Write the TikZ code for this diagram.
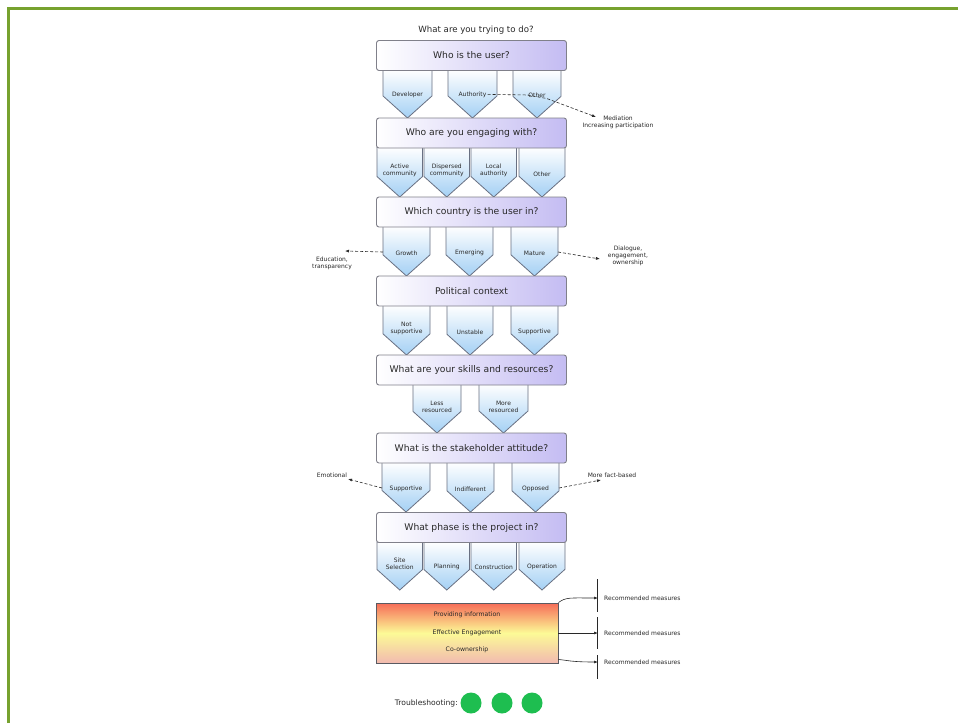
\documentclass[tikz,border=0pt]{standalone}
\usepackage{fontspec}
\setmainfont{DejaVu Sans}
\usetikzlibrary{arrows.meta}
\definecolor{frameg}{RGB}{119,162,47}
\definecolor{lav}{RGB}{196,188,242}
\definecolor{pblue}{RGB}{164,208,244}
\definecolor{bord}{RGB}{128,128,138}
\definecolor{pbord}{RGB}{105,112,130}
\definecolor{gred}{RGB}{246,108,88}
\definecolor{gyel}{RGB}{252,250,150}
\definecolor{gpink}{RGB}{242,186,176}
\definecolor{tgreen}{RGB}{30,190,80}
\definecolor{txt}{RGB}{40,40,40}
\newcommand\mypent[6]{%
  \pgfmathsetmacro\pXa{#5-0.45*(#3-#2)}%
  \pgfmathsetmacro\pXm{(#2+#3)/2}%
  \path[pentshape] (#2,#4) -- (#3,#4) -- (#3,\pXa) -- (\pXm,#5) -- (#2,\pXa) -- cycle;
  \node[plabel,anchor=south] (#1) at (\pXm,#5-19.5) {#6};
  \coordinate (#1-w) at (#2,#5-24);
  \coordinate (#1-e) at (#3,#5-24);
}
\begin{document}
\begin{tikzpicture}[x=1pt,y=-1pt,
  qbox/.style={draw=bord, line width=0.9pt, rounded corners=2.5pt, left color=white, right color=lav,
    minimum width=190pt, minimum height=30pt, inner sep=0pt, font=\fontsize{9.2}{10}\selectfont, text=txt},
  pentshape/.style={draw=pbord, line width=0.8pt, top color=white, bottom color=pblue},
  plabel/.style={font=\fontsize{6}{6.6}\selectfont, align=center, inner sep=1pt, text=txt},
  side/.style={font=\fontsize{6}{7}\selectfont, align=center, inner sep=1pt, text=txt},
  gtxt/.style={font=\fontsize{6.2}{7}\selectfont, inner sep=1pt, text=txt},
  darr/.style={draw=txt, dash pattern=on 3pt off 2pt, line width=0.6pt, -{Latex[length=4pt,width=3pt]}},
  rarr/.style={draw=txt, line width=0.6pt, -{Latex[length=4pt,width=3pt]}},
  dot/.style={circle, fill=tgreen, minimum size=21pt, inner sep=0pt},
]
\useasboundingbox (0,0) rectangle (958,723);
\fill[white] (0,0) rectangle (958,723);
\draw[frameg, line width=2.2pt] (8.5,723) -- (8.5,8.5) -- (958,8.5);

\node[font=\fontsize{8.6}{9}\selectfont, text=txt] (hdr) at (476,30) {What are you trying to do?};

% pentagons
\mypent{p11}{383}{432}{70}{118}{Developer}
\mypent{p12}{448}{497}{70}{118}{Authority}
\mypent{p13}{513}{561}{70}{118}{Other}
\mypent{p21}{377}{422.5}{147}{197}{Active\\community}
\mypent{p22}{424}{469.5}{147}{197}{Dispersed\\community}
\mypent{p23}{471}{516.5}{147}{197}{Local\\authority}
\mypent{p24}{519}{565}{147}{197}{Other}
\mypent{p31}{383}{430}{226}{276}{Growth}
\mypent{p32}{446}{493}{226}{276}{Emerging}
\mypent{p33}{511}{558}{226}{276}{Mature}
\mypent{p41}{383}{430}{305}{355}{Not\\supportive}
\mypent{p42}{447}{493}{305}{355}{Unstable}
\mypent{p43}{511}{558}{305}{355}{Supportive}
\mypent{p51}{413}{461}{384}{433}{Less\\resourced}
\mypent{p52}{479}{528}{384}{433}{More\\resourced}
\mypent{p61}{382}{430}{462}{512}{Supportive}
\mypent{p62}{447}{494}{462}{512}{Indifferent}
\mypent{p63}{512}{559}{462}{512}{Opposed}
\mypent{p71}{377}{422.5}{542}{590}{Site\\Selection}
\mypent{p72}{424}{469.5}{542}{590}{Planning}
\mypent{p73}{471}{516.5}{542}{590}{Construction}
\mypent{p74}{519}{565}{542}{590}{Operation}

% question boxes
\node[qbox] (b1) at (471.5,55.5) {Who is the user?};
\node[qbox] (b2) at (471.5,133) {Who are you engaging with?};
\node[qbox] (b3) at (471.5,212) {Which country is the user in?};
\node[qbox] (b4) at (471.5,291) {Political context};
\node[qbox] (b5) at (471.5,370) {What are your skills and resources?};
\node[qbox] (b6) at (471.5,448) {What is the stakeholder attitude?};
\node[qbox] (b7) at (471.5,527.5) {What phase is the project in?};

% side notes
\node[side] (med) at (618,122) {Mediation\\Increasing participation};
\coordinate (mt) at (596,117);
\draw[darr] (p12.east) -- (p13.west) -- (p13.south east) -- (mt);

\node[side] (edu) at (332,263) {Education,\\transparency};
\coordinate (et) at (345,251);
\draw[darr] (p31-w) -- (et);

\node[side] (dia) at (628,256) {Dialogue,\\engagement,\\ownership};
\coordinate (dt) at (600,259);
\draw[darr] (p33-e) -- (dt);

\node[side] (emo) at (332,475) {Emotional};
\coordinate (emt) at (348,479);
\draw[darr] (p61-w) -- (emt);

\node[side] (mfb) at (612,475) {More fact-based};
\coordinate (mft) at (601,480);
\draw[darr] (p63-e) -- (mft);

% engagement level box
\node[draw=bord!70!black, line width=0.9pt, minimum width=182pt, minimum height=60pt, inner sep=0pt,
  top color=gred, bottom color=gpink, middle color=gyel] (g) at (467,633) {};
\node[gtxt] (gt1) at (467,615) {Providing information};
\node[gtxt] (gt2) at (467,633) {Effective Engagement};
\node[gtxt] (gt3) at (467,650) {Co-ownership};

\draw[txt, line width=0.6pt] (597,579) -- (597,612);
\draw[txt, line width=0.6pt] (597,617) -- (597,649);
\draw[txt, line width=0.6pt] (597,655) -- (597,679);

\coordinate (rt1) at (598,598);
\coordinate (rt2) at (598,633);
\coordinate (rt3) at (598,662);
\node[side, anchor=west] (rm1) at (603,598) {Recommended measures};
\node[side, anchor=west] (rm2) at (603,633) {Recommended measures};
\node[side, anchor=west] (rm3) at (603,662) {Recommended measures};
\draw[rarr] (g.north east) .. controls (566,597) and (570,598) .. (rt1);
\draw[rarr] (g.east) -- (rt2);
\draw[rarr] ([yshift=4pt]g.south east) .. controls (566,660) and (570,662) .. (rt3);

% troubleshooting
\node[font=\fontsize{7.6}{8}\selectfont, text=txt, anchor=east, inner sep=1pt] (ts) at (459,703) {Troubleshooting:};
\node[dot] (c1) at (471,703) {};
\node[dot] (c2) at (502,703) {};
\node[dot] (c3) at (532,703) {};
\end{tikzpicture}
\end{document}
